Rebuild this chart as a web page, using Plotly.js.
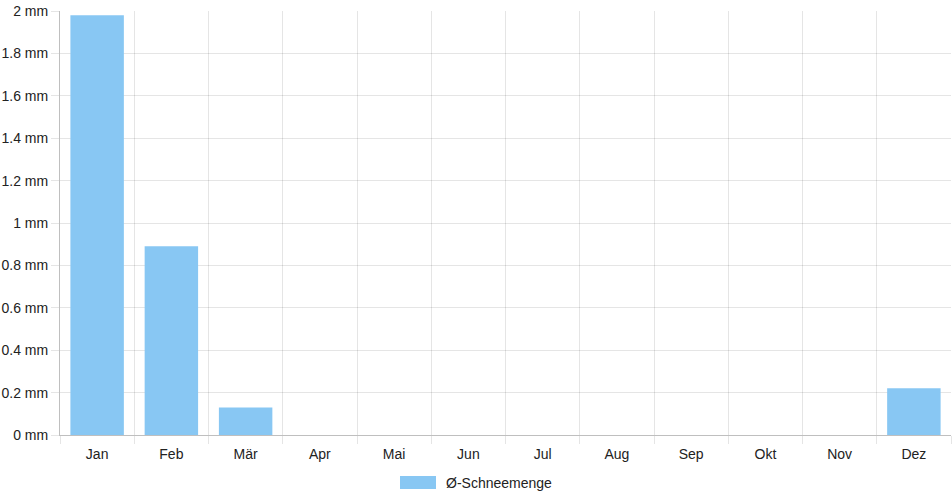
<!DOCTYPE html>
<html>
<head>
<meta charset="utf-8">
<script src="https://cdn.plot.ly/plotly-3.0.1.min.js"></script>
<style>
html,body{margin:0;padding:0;background:#fff;}
#chart{width:952px;height:500px;}
</style>
</head>
<body>
<div id="chart"></div>
<script>
const months = ["Jan","Feb","Mär","Apr","Mai","Jun","Jul","Aug","Sep","Okt","Nov","Dez"];
const snow = [1.98, 0.89, 0.13, 0, 0, 0, 0, 0, 0, 0, 0, 0.22];
const seriesName = "Ø-Schneemenge";
const unit = " mm";

const barColor = "#88c7f3";
const gridColor = "rgba(0,0,0,0.1)";
const textColor = "#222";
const font = {family: "Liberation Sans, Arial, Helvetica, sans-serif", size: 14, color: textColor};

const trace = {
  type: "bar",
  x: months,
  y: snow,
  name: seriesName,
  marker: {color: barColor, line: {width: 0}},
  hoverinfo: "x+y"
};

const layout = {
  width: 952, height: 500,
  margin: {l: 60, r: 1, t: 11, b: 65, pad: 0},
  paper_bgcolor: "#fff", plot_bgcolor: "#fff",
  font: font,
  bargap: 0.28,
  showlegend: false,
  xaxis: {
    type: "category",
    tickson: "boundaries",
    ticks: "outside", ticklen: 8, tickcolor: gridColor, tickwidth: 1,
    ticklabelstandoff: 6,
    showgrid: true, gridcolor: gridColor, gridwidth: 1,
    showline: true, linecolor: "rgba(0,0,0,0.25)", linewidth: 1,
    tickfont: font,
    fixedrange: true
  },
  yaxis: {
    range: [0, 2],
    dtick: 0.2, tick0: 0,
    ticksuffix: unit,
    ticks: "outside", ticklen: 8, tickcolor: gridColor, tickwidth: 1,
    showgrid: true, gridcolor: gridColor, gridwidth: 1,
    zeroline: false,
    showline: true, linecolor: "rgba(0,0,0,0.25)", linewidth: 1,
    tickfont: font,
    fixedrange: true
  },
  shapes: [{
    type: "rect", xref: "paper", yref: "paper",
    x0: (400 - 60) / 891, x1: (436 - 60) / 891,
    y0: (435 - 489) / 424, y1: (435 - 476) / 424,
    fillcolor: barColor, line: {width: 0}
  }],
  annotations: [{
    xref: "paper", yref: "paper",
    x: (444 - 60) / 891, y: (435 - 482.5) / 424,
    xanchor: "left", yanchor: "middle",
    text: seriesName, showarrow: false,
    font: font
  }]
};

Plotly.newPlot("chart", [trace], layout, {displayModeBar: false, staticPlot: true});
</script>
</body>
</html>
